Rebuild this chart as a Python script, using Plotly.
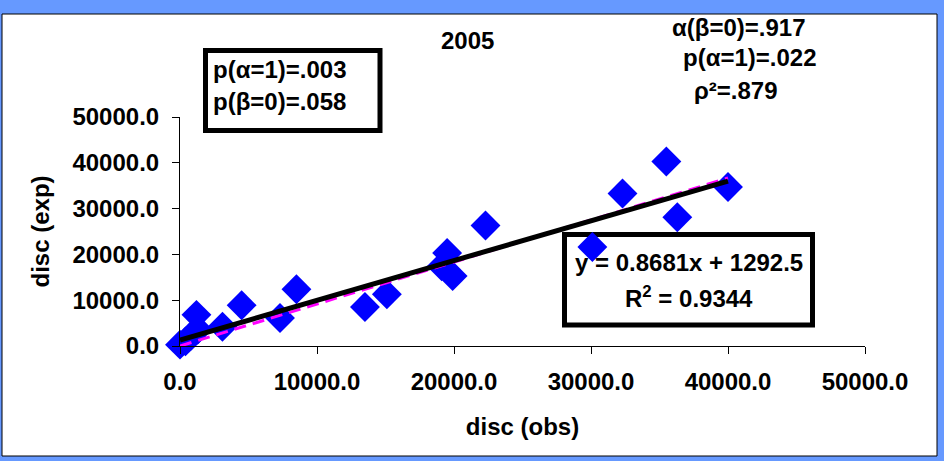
import plotly.graph_objects as go

# observed vs expected discharge, 2005
disc_obs = [0, 400, 800, 1300, 1200, 3100, 4500, 7300, 8500, 13500, 15100,
            19100, 19500, 19900, 22300, 30100, 32300, 35500, 36300, 40000]
disc_exp = [300, 1000, 2200, 3600, 6800, 4200, 8900, 6100, 12400, 8500, 11300,
            17400, 20300, 15300, 26300, 21600, 33300, 40300, 28100, 34700]

# least-squares fit and fit through the origin
slope, intercept = 0.8681, 1292.5
r_squared = 0.9344
alpha0 = 0.917
fit_x = [0, 40000]

x_ticks = [0, 10000, 20000, 30000, 40000, 50000]
y_ticks = [0, 10000, 20000, 30000, 40000, 50000]

FONT = "Liberation Sans, Arial, sans-serif"
BLUE_FRAME = "#6699FF"

# plot-area pixel geometry used to place the decorations in paper units
L, R, T, B = 180, 79, 117, 115
W, H = 944, 461
PW, PH = W - L - R, H - T - B


def px(x):
    return (x - L) / PW


def py(y):
    return (H - B - y) / PH


fig = go.Figure()

fig.add_trace(go.Scatter(
    x=disc_obs, y=disc_exp, mode="markers",
    marker=dict(symbol="diamond", size=23, color="#0000FF", line=dict(width=0)),
    showlegend=False, cliponaxis=False,
))
fig.add_trace(go.Scatter(
    x=fit_x, y=[alpha0 * v for v in fit_x], mode="lines",
    line=dict(color="#FF00FF", width=3, dash="12px,7px"),
    showlegend=False, cliponaxis=False,
))
fig.add_trace(go.Scatter(
    x=fit_x, y=[slope * v + intercept for v in fit_x], mode="lines",
    line=dict(color="#000000", width=5),
    showlegend=False, cliponaxis=False,
))

shapes = [
    # white chart panel with thin dark edge
    dict(type="rect", xref="paper", yref="paper", layer="below",
         x0=px(2), x1=px(937), y0=py(456), y1=py(14),
         fillcolor="white", line=dict(color="#000000", width=1)),
    # p-value box
    dict(type="rect", xref="paper", yref="paper", layer="below",
         x0=px(205.5), x1=px(380), y0=py(130.5), y1=py(50.5),
         fillcolor="white", line=dict(color="#000000", width=5)),
    # regression equation box
    dict(type="rect", xref="paper", yref="paper", layer="below",
         x0=px(564.5), x1=px(812.5), y0=py(325), y1=py(234.5),
         fillcolor="white", line=dict(color="#000000", width=5)),
]

bold = dict(family=FONT, size=24, color="#000000", weight="bold")


def label(text, x, y, xanchor="center"):
    return dict(text=text, xref="paper", yref="paper", x=px(x), y=py(y),
                xanchor=xanchor, yanchor="middle", showarrow=False, font=bold)


annotations = [
    label("2005", 467, 41),
    label("α(β=0)=.917", 738, 27),
    label("p(α=1)=.022", 750, 58),
    label("ρ²=.879", 736, 90),
    label("p(α=1)=.003", 211, 69, "left"),
    label("p(β=0)=.058", 211, 102, "left"),
    label(f"y = {slope}x + {intercept}", 689, 262),
    label(f"R<sup>2</sup> = {r_squared}", 689, 297),
]

axis_common = dict(
    showgrid=False, zeroline=False, showline=True, linecolor="#000000",
    linewidth=1, ticks="outside", ticklen=7, tickcolor="#000000",
    tickwidth=1, tickformat=".1f", tickfont=bold,
)

fig.update_layout(
    width=W, height=H,
    margin=dict(l=L, r=R, t=T, b=B),
    paper_bgcolor=BLUE_FRAME, plot_bgcolor="rgba(0,0,0,0)",
    xaxis=dict(range=[0, 50000], tickvals=x_ticks, ticklabelstandoff=7,
               title=dict(text="disc (obs)", font=bold, standoff=24),
               **axis_common),
    yaxis=dict(range=[0, 50000], tickvals=y_ticks, ticklabelstandoff=8,
               title=dict(text="disc (exp)", font=bold, standoff=16),
               **axis_common),
    shapes=shapes, annotations=annotations,
)

fig.write_html("out.html")
